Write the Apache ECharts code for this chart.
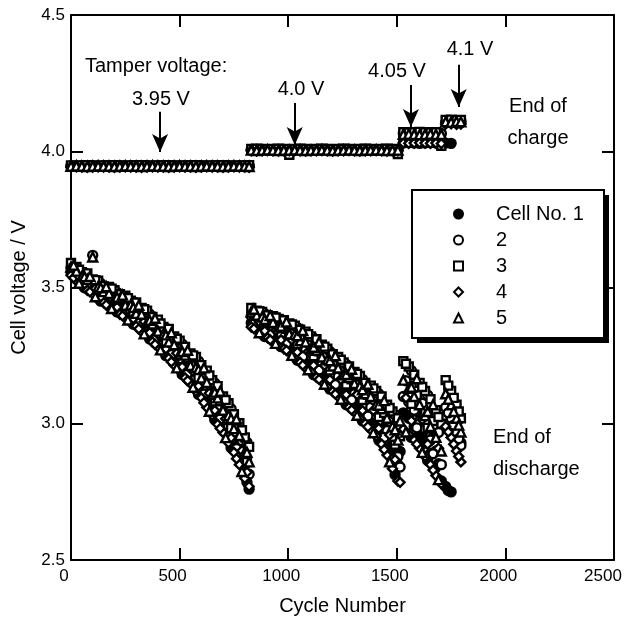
<!DOCTYPE html>
<html>
<head>
<meta charset="utf-8">
<script src="https://cdn.jsdelivr.net/npm/echarts@6/dist/echarts.min.js"></script>
<style>
  html, body { margin: 0; padding: 0; background: #fff; }
  #chart { width: 624px; height: 617px; }
</style>
</head>
<body>
<div id="chart"></div>
<script>
// cycle numbers at which end-of-charge / end-of-discharge voltages were logged
const cycles = [
  0, 25, 50, 75, 100, 125, 150, 175, 200, 225, 250, 275, 300, 325, 350, 375, 400,
  425, 450, 475, 500, 525, 550, 575, 600, 625, 650, 675, 700, 725, 750, 775, 800, 820,
  830, 855, 880, 905, 930, 955, 980, 1005, 1030, 1055, 1080, 1105, 1130, 1155, 1180,
  1205, 1230, 1255, 1280, 1305, 1330, 1355, 1380, 1405, 1430, 1455, 1480, 1505,
  1530, 1555, 1580, 1605, 1630, 1655, 1680, 1705,
  1725, 1750, 1775, 1795
]
// extra cycles in between, end of discharge only
const cyclesMid = [
  12, 37, 62, 87, 112, 137, 162, 187, 212, 237, 262, 287, 312, 337, 362, 387, 412,
  437, 462, 487, 512, 537, 562, 587, 612, 637, 662, 687, 712, 737, 762, 787, 810,
  842, 867, 892, 917, 942, 967, 992, 1017, 1042, 1067, 1092, 1117, 1142, 1167,
  1192, 1217, 1242, 1267, 1292, 1317, 1342, 1367, 1392, 1417, 1442, 1467, 1492, 1515,
  1542, 1567, 1592, 1617, 1642, 1667, 1692,
  1737, 1762, 1785
]

// end of discharge voltages (V)
const cell1Discharge = [
  3.556, 3.545, 3.522, 3.515, 3.490, 3.483, 3.462, 3.460, 3.438, 3.435, 3.412, 3.408, 3.380, 3.376, 3.345, 3.340, 3.308,
  3.302, 3.265, 3.258, 3.225, 3.212, 3.176, 3.168, 3.128, 3.112, 3.066, 3.050, 3.005, 2.985, 2.932, 2.908, 2.848, 2.760,
  3.370, 3.365, 3.350, 3.345, 3.328, 3.322, 3.302, 3.295, 3.272, 3.262, 3.240, 3.232, 3.205, 3.198, 3.170,
  3.162, 3.135, 3.125, 3.100, 3.090, 3.060, 3.050, 3.020, 3.005, 2.970, 2.950, 2.900, 2.850,
  3.04, 3.02, 2.99, 2.96, 2.93, 2.89, 2.84, 2.79,
  2.77, 2.75, 3.00, 2.93
]
const cell2Discharge = [
  3.572, 3.548, 3.536, 3.518, 3.618, 3.488, 3.480, 3.462, 3.458, 3.440, 3.433, 3.406, 3.408, 3.374, 3.373, 3.340, 3.334,
  3.304, 3.294, 3.264, 3.251, 3.216, 3.211, 3.172, 3.158, 3.121, 3.098, 3.055, 3.040, 2.990, 2.970, 2.914, 2.886, 2.815,
  3.395, 3.378, 3.375, 3.358, 3.355, 3.335, 3.333, 3.308, 3.305, 3.278, 3.275, 3.248, 3.245, 3.215, 3.205,
  3.180, 3.172, 3.145, 3.140, 3.110, 3.100, 3.070, 3.060, 3.030, 3.012, 2.975, 2.945, 2.880,
  3.10, 3.08, 3.05, 3.01, 2.98, 2.94, 2.90, 2.85,
  3.06, 3.02, 2.97, 2.92
]
const cell3Discharge = [
  3.590, 3.575, 3.556, 3.552, 3.530, 3.525, 3.505, 3.502, 3.490, 3.475, 3.470, 3.452, 3.445, 3.425, 3.415, 3.392, 3.382,
  3.355, 3.348, 3.320, 3.305, 3.282, 3.258, 3.245, 3.215, 3.195, 3.160, 3.138, 3.100, 3.075, 3.035, 3.002, 2.950, 2.915,
  3.425, 3.415, 3.410, 3.398, 3.395, 3.385, 3.380, 3.368, 3.360, 3.345, 3.338, 3.320, 3.310, 3.290, 3.275,
  3.255, 3.245, 3.225, 3.210, 3.190, 3.175, 3.150, 3.140, 3.120, 3.100, 3.070, 3.045, 3.020,
  3.23, 3.21, 3.18, 3.15, 3.12, 3.09, 3.05, 3.00,
  3.16, 3.12, 3.07, 3.02
]
const cell4Discharge = [
  3.545, 3.525, 3.508, 3.490, 3.478, 3.455, 3.445, 3.428, 3.418, 3.402, 3.390, 3.372, 3.358, 3.338, 3.322, 3.300, 3.282,
  3.260, 3.240, 3.215, 3.195, 3.168, 3.148, 3.120, 3.095, 3.060, 3.032, 2.998, 2.968, 2.930, 2.895, 2.850, 2.800, 2.770,
  3.355, 3.342, 3.325, 3.315, 3.300, 3.290, 3.275, 3.262, 3.240, 3.225, 3.205, 3.190, 3.170, 3.155, 3.135,
  3.118, 3.100, 3.080, 3.060, 3.042, 3.020, 3.000, 2.978, 2.955, 2.925, 2.885, 2.835, 2.790,
  2.98, 2.96, 2.94, 2.91, 2.88, 2.85, 2.81, 2.78,
  2.99, 2.95, 2.90, 2.86
]
const cell5Discharge = [
  3.575, 3.560, 3.540, 3.530, 3.612, 3.503, 3.485, 3.478, 3.460, 3.458, 3.435, 3.436, 3.405, 3.402, 3.372, 3.366, 3.340,
  3.328, 3.300, 3.290, 3.256, 3.252, 3.214, 3.207, 3.168, 3.152, 3.108, 3.095, 3.050, 3.030, 2.982, 2.957, 2.896, 2.860,
  3.410, 3.398, 3.392, 3.375, 3.372, 3.355, 3.352, 3.330, 3.328, 3.305, 3.300, 3.275, 3.270, 3.245, 3.235,
  3.212, 3.205, 3.180, 3.170, 3.148, 3.138, 3.110, 3.100, 3.070, 3.055, 3.020, 2.990, 2.940,
  3.16, 3.13, 3.10, 3.07, 3.03, 2.99, 2.95, 2.90,
  3.11, 3.07, 3.02, 2.97
]

// end of discharge voltages (V) at cyclesMid
const cell1DischargeMid = [
  3.559, 3.528, 3.499, 3.513, 3.481, 3.450, 3.470, 3.441, 3.410, 3.434, 3.401, 3.365, 3.392, 3.353, 3.311, 3.339, 3.295,
  3.250, 3.281, 3.232, 3.181, 3.214, 3.163, 3.107, 3.141, 3.079, 3.015, 3.051, 2.984, 2.912, 2.945, 2.863, 2.785,
  3.385, 3.354, 3.320, 3.353, 3.319, 3.283, 3.322, 3.279, 3.233, 3.279, 3.231, 3.180, 3.232, 3.180,
  3.127, 3.180, 3.126, 3.070, 3.126, 3.069, 3.010, 3.067, 3.008, 2.940, 2.995, 2.910, 2.813, 2.898,
  3.033, 2.950, 3.045, 2.955, 2.865, 2.950, 2.853,
  2.755, 3.030, 2.965
]
const cell2DischargeMid = [
  3.547, 3.553, 3.554, 3.498, 3.512, 3.515, 3.453, 3.478, 3.482, 3.415, 3.441, 3.448, 3.370, 3.398, 3.403, 3.315, 3.344,
  3.351, 3.254, 3.285, 3.293, 3.186, 3.222, 3.230, 3.109, 3.144, 3.149, 3.017, 3.053, 3.055, 2.909, 2.938, 2.932,
  3.367, 3.393, 3.404, 3.330, 3.366, 3.383, 3.295, 3.336, 3.353, 3.247, 3.296, 3.315, 3.197, 3.249,
  3.265, 3.144, 3.199, 3.218, 3.088, 3.145, 3.163, 3.028, 3.089, 3.110, 2.950, 3.009, 3.033, 2.841,
  3.158, 3.195, 2.985, 3.075, 3.105, 2.890, 2.968,
  3.040, 2.995, 2.945
]
const cell3DischargeMid = [
  3.570, 3.565, 3.527, 3.527, 3.527, 3.483, 3.486, 3.496, 3.446, 3.453, 3.461, 3.407, 3.413, 3.420, 3.357, 3.363, 3.368,
  3.301, 3.307, 3.312, 3.237, 3.242, 3.251, 3.169, 3.173, 3.177, 3.082, 3.085, 3.087, 2.984, 2.982, 2.976, 2.859,
  3.402, 3.413, 3.362, 3.375, 3.390, 3.333, 3.348, 3.364, 3.293, 3.310, 3.329, 3.248, 3.266, 3.283,
  3.196, 3.215, 3.235, 3.144, 3.163, 3.183, 3.087, 3.106, 3.130, 3.025, 3.040, 3.058, 2.923, 2.954,
  3.220, 3.073, 3.105, 3.135, 2.985, 3.010, 3.025,
  3.140, 3.095, 3.045
]
const cell4DischargeMid = [
  3.535, 3.541, 3.513, 3.484, 3.497, 3.466, 3.436, 3.460, 3.428, 3.396, 3.421, 3.386, 3.348, 3.375, 3.334, 3.291, 3.320,
  3.275, 3.227, 3.259, 3.209, 3.158, 3.193, 3.138, 3.077, 3.112, 3.049, 2.983, 3.018, 2.948, 2.872, 2.901, 2.822,
  3.349, 3.374, 3.341, 3.308, 3.343, 3.308, 3.269, 3.308, 3.263, 3.215, 3.264, 3.214, 3.163, 3.214,
  3.162, 3.109, 3.163, 3.107, 3.051, 3.107, 3.048, 2.989, 3.049, 2.983, 2.905, 2.959, 2.868, 2.785,
  3.095, 3.011, 2.925, 3.015, 2.925, 2.830, 2.910,
  2.970, 2.925, 2.880
]
const cell5DischargeMid = [
  3.582, 3.516, 3.540, 3.541, 3.466, 3.499, 3.503, 3.423, 3.464, 3.472, 3.381, 3.427, 3.435, 3.330, 3.380, 3.387, 3.271,
  3.326, 3.334, 3.205, 3.265, 3.270, 3.134, 3.199, 3.205, 3.046, 3.116, 3.119, 2.949, 3.019, 3.018, 2.825, 2.895,
  3.420, 3.334, 3.383, 3.397, 3.295, 3.358, 3.374, 3.251, 3.323, 3.342, 3.198, 3.281, 3.300, 3.145,
  3.231, 3.250, 3.090, 3.181, 3.200, 3.031, 3.125, 3.145, 2.967, 3.068, 3.085, 2.860, 2.978, 3.010,
  2.970, 3.134, 3.165, 2.895, 3.045, 3.070, 2.795,
  3.090, 3.045, 2.995
]

// end of charge voltages (V), limited by the tamper voltage
const cell1Charge = [
  3.945, 3.944, 3.946, 3.945, 3.945, 3.944, 3.946, 3.945, 3.945, 3.946, 3.944, 3.945, 3.945, 3.946, 3.945, 3.944, 3.945,
  3.945, 3.946, 3.944, 3.945, 3.945, 3.946, 3.945, 3.944, 3.945, 3.945, 3.946, 3.945, 3.944, 3.945, 3.946, 3.945, 3.945,
  4.004, 4.005, 4.006, 4.004, 4.005, 4.005, 4.006, 4.004, 4.005, 4.006, 4.005, 4.004, 4.005, 4.006, 4.005,
  4.004, 4.005, 4.006, 4.005, 4.004, 4.005, 4.006, 4.005, 4.004, 4.005, 4.006, 4.005, 4.004,
  4.030, 4.031, 4.030, 4.029, 4.030, 4.031, 4.030, 4.030,
  4.030, 4.029, 4.110, 4.112
]
const cell2Charge = [
  3.946, 3.945, 3.946, 3.947, 3.946, 3.945, 3.946, 3.946, 3.947, 3.946, 3.945, 3.946, 3.946, 3.947, 3.946, 3.945, 3.946,
  3.946, 3.947, 3.946, 3.945, 3.946, 3.946, 3.947, 3.946, 3.945, 3.946, 3.946, 3.947, 3.946, 3.945, 3.946, 3.946, 3.947,
  4.006, 4.007, 4.006, 4.005, 4.006, 4.007, 4.006, 4.005, 4.006, 4.007, 4.006, 4.005, 4.006, 4.007, 4.006,
  4.005, 4.006, 4.007, 4.006, 4.005, 4.006, 4.007, 4.006, 4.005, 4.006, 4.007, 4.006, 4.005,
  4.065, 4.066, 4.064, 4.065, 4.066, 4.065, 4.064, 4.065,
  4.105, 4.106, 4.104, 4.105
]
const cell3Charge = [
  3.948, 3.947, 3.948, 3.949, 3.948, 3.947, 3.948, 3.948, 3.949, 3.948, 3.947, 3.948, 3.948, 3.949, 3.948, 3.947, 3.948,
  3.948, 3.949, 3.948, 3.947, 3.948, 3.948, 3.949, 3.948, 3.947, 3.948, 3.948, 3.949, 3.948, 3.947, 3.948, 3.948, 3.949,
  4.008, 4.009, 4.008, 4.007, 4.008, 4.009, 4.008, 3.987, 4.008, 4.009, 4.008, 4.007, 4.008, 4.009, 4.008,
  4.007, 4.008, 4.009, 4.008, 4.007, 4.008, 4.009, 4.008, 4.007, 4.008, 4.009, 4.008, 3.990,
  4.070, 4.069, 4.070, 4.071, 4.070, 4.069, 4.070, 4.020,
  4.115, 4.116, 4.114, 4.115
]
const cell4Charge = [
  3.942, 3.943, 3.942, 3.941, 3.942, 3.943, 3.942, 3.942, 3.941, 3.942, 3.943, 3.942, 3.942, 3.941, 3.942, 3.943, 3.942,
  3.942, 3.941, 3.942, 3.943, 3.942, 3.942, 3.941, 3.942, 3.943, 3.942, 3.942, 3.941, 3.942, 3.943, 3.942, 3.942, 3.941,
  4.002, 4.001, 4.002, 4.003, 4.002, 4.001, 4.002, 4.002, 4.003, 4.002, 4.001, 4.002, 4.002, 4.003, 4.002,
  4.001, 4.002, 4.002, 4.003, 4.002, 4.001, 4.002, 4.002, 4.003, 4.002, 4.001, 4.002, 4.002,
  4.030, 4.029, 4.030, 4.031, 4.030, 4.029, 4.030, 4.028,
  4.100, 4.101, 4.099, 4.100
]
const cell5Charge = [
  3.945, 3.946, 3.945, 3.944, 3.945, 3.946, 3.945, 3.945, 3.944, 3.945, 3.946, 3.945, 3.945, 3.944, 3.945, 3.946, 3.945,
  3.945, 3.944, 3.945, 3.946, 3.945, 3.945, 3.944, 3.945, 3.946, 3.945, 3.945, 3.944, 3.945, 3.946, 3.945, 3.945, 3.944,
  4.004, 4.003, 4.004, 4.005, 4.004, 4.003, 4.004, 4.004, 4.005, 4.004, 4.003, 4.004, 4.004, 4.005, 4.004,
  4.003, 4.004, 4.004, 4.005, 4.004, 4.003, 4.004, 4.004, 4.005, 4.004, 4.003, 4.004, 4.004,
  4.062, 4.063, 4.062, 4.061, 4.062, 4.063, 4.062, 4.062,
  4.108, 4.107, 4.109, 4.108
]

const cellNames = ['Cell No. 1', '2', '3', '4', '5']
const cellSymbols = ['circle', 'circle', 'rect', 'diamond', 'triangle']
const dischargeData = [cell1Discharge, cell2Discharge, cell3Discharge, cell4Discharge, cell5Discharge]
const dischargeMidData = [cell1DischargeMid, cell2DischargeMid, cell3DischargeMid, cell4DischargeMid, cell5DischargeMid]
const chargeData = [cell1Charge, cell2Charge, cell3Charge, cell4Charge, cell5Charge]

const xTicks = [0, 500, 1000, 1500, 2000, 2500]
const yTicks = [2.5, 3.0, 3.5, 4.0, 4.5]

var myChart = echarts.init(document.getElementById('chart'))
const FONT = '"Liberation Sans", Arial, Helvetica, sans-serif'

// tamper voltage arrows (cycle, from V, to V)
const arrows = [
  [410, 4.145, 3.997],
  [1030, 4.177, 4.023],
  [1565, 4.243, 4.089],
  [1785, 4.317, 4.162]
]

function cellSeries(i) {
  const pts = []
  cycles.forEach((c, k) => { pts.push([c, dischargeData[i][k]]) })
  cyclesMid.forEach((c, k) => { pts.push([c, dischargeMidData[i][k]]) })
  cycles.forEach((c, k) => { pts.push([c, chargeData[i][k]]) })
  return {
    name: cellNames[i],
    type: 'scatter',
    symbol: cellSymbols[i],
    symbolSize: i == 2 ? 8 : 9,
    data: pts,
    itemStyle: {
      color: i == 0 ? '#000' : '#fff',
      borderColor: '#000',
      borderWidth: 2.4,
      opacity: 1
    },
    z: 2 + i
  }
}

const series = [0, 1, 2, 3, 4].map(cellSeries)
series.push({
  name: 'arrows',
  type: 'scatter',
  data: [],
  markLine: {
    silent: true,
    animation: false,
    symbol: ['none', 'arrow'],
    symbolSize: [12, 18],
    label: { show: false },
    lineStyle: { color: '#000', width: 2, type: 'solid' },
    emphasis: { disabled: true },
    data: arrows.map(a => [{ coord: [a[0], a[1]] }, { coord: [a[0], a[2]] }])
  },
  z: 10
})

const tickStyle = { show: true, inside: true, length: 12, lineStyle: { color: '#000', width: 2 } }
const lineStyle = { show: true, onZero: false, lineStyle: { color: '#000', width: 2 } }

function txt(text, x, y, align) {
  return {
    type: 'text', x: x, y: y, z: 20,
    style: {
      text: text, fill: '#000', font: '20px ' + FONT,
      textAlign: align || 'center', textVerticalAlign: 'middle',
      align: align || 'center', verticalAlign: 'middle', lineHeight: 32
    }
  }
}

const option = {
  animation: false,
  backgroundColor: '#fff',
  textStyle: { fontFamily: FONT },
  grid: { left: 71, right: 10, top: 15, bottom: 57, containLabel: false, outerBoundsMode: 'none' },
  xAxis: [
    {
      type: 'value', min: xTicks[0], max: xTicks[xTicks.length - 1], interval: 500,
      name: 'Cycle Number', nameLocation: 'middle', nameGap: 36,
      nameTextStyle: { fontSize: 20, color: '#000', fontFamily: FONT },
      axisLine: lineStyle, axisTick: tickStyle, splitLine: { show: false },
      axisLabel: {
        fontSize: 17, color: '#000', margin: 8, fontFamily: FONT, padding: [0, 14, 0, 0],
        formatter: v => v == xTicks[xTicks.length - 1] ? '{e|' + v + '}' : String(v),
        rich: { e: { fontSize: 17, color: '#000', fontFamily: FONT, padding: [0, 8, 0, 0] } }
      }
    },
    {
      type: 'value', position: 'top', min: xTicks[0], max: xTicks[xTicks.length - 1], interval: 500,
      axisLine: lineStyle, axisTick: tickStyle, splitLine: { show: false }, axisLabel: { show: false }
    }
  ],
  yAxis: [
    {
      type: 'value', min: yTicks[0], max: yTicks[yTicks.length - 1], interval: 0.5,
      name: 'Cell voltage / V', nameLocation: 'middle', nameGap: 42, nameRotate: 90,
      nameTextStyle: { fontSize: 20, color: '#000', fontFamily: FONT },
      axisLine: lineStyle, axisTick: tickStyle, splitLine: { show: false },
      axisLabel: { fontSize: 17, color: '#000', margin: 6, fontFamily: FONT, formatter: v => v.toFixed(1) }
    },
    {
      type: 'value', position: 'right', min: yTicks[0], max: yTicks[yTicks.length - 1], interval: 0.5,
      axisLine: lineStyle, axisTick: tickStyle, splitLine: { show: false }, axisLabel: { show: false }
    }
  ],
  legend: {
    data: cellNames,
    orient: 'vertical',
    left: 453, top: 204,
    padding: 0,
    itemWidth: 9, itemHeight: 9, itemGap: 6,
    selectedMode: false,
    itemStyle: { borderWidth: 2 },
    textStyle: { fontSize: 20, color: '#000', fontFamily: FONT, padding: [0, 0, 0, 28], lineHeight: 20 },
    z: 12
  },
  graphic: [
    {
      type: 'rect', z: 10,
      shape: { x: 417, y: 195, width: 192, height: 148 },
      style: { fill: '#000', stroke: null }
    },
    {
      type: 'rect', z: 11,
      shape: { x: 412, y: 190, width: 192, height: 148 },
      style: { fill: '#fff', stroke: '#000', lineWidth: 2 }
    },
    txt('Tamper voltage:', 85, 66, 'left'),
    txt('3.95 V', 161, 99),
    txt('4.0 V', 301, 89),
    txt('4.05 V', 397, 71),
    txt('4.1 V', 470, 49),
    txt('End of\ncharge', 538, 122),
    txt('End of\ndischarge', 493, 453, 'left')
  ],
  series: series
}

myChart.setOption(option)
</script>
</body>
</html>
